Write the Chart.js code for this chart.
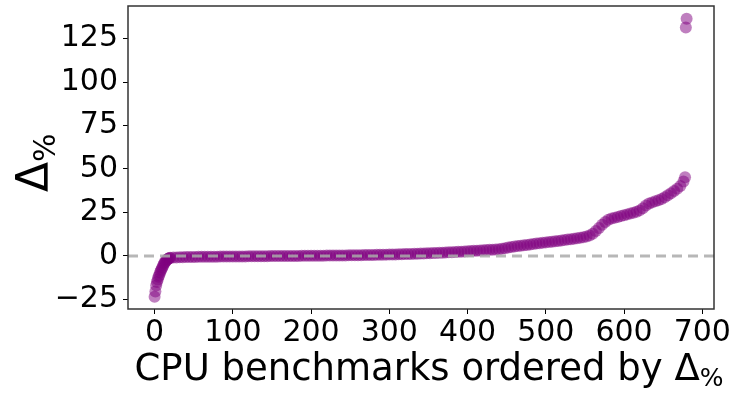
<!DOCTYPE html>
<html>
<head>
<meta charset="utf-8">
<script src="https://cdn.jsdelivr.net/npm/chart.js@4.4.0/dist/chart.umd.min.js"></script>
<style>
  body { margin: 0; background: #fff; }
  #wrap { width: 738px; height: 399px; position: relative; }
</style>
</head>
<body>
<div id="wrap"><canvas id="deltaChart"></canvas></div>
<script>
// benchmark index (sorted by delta) and delta in %
var benchIdx = [0, 1, 2, 3, 4, 5, 6, 7, 8, 9, 10, 11, 12, 13, 14, 15, 16, 17, 18, 19, 20,
	24, 28, 32, 36, 40, 44, 48, 52, 56, 60,
	64, 68, 72, 76, 80, 84, 88, 92, 96, 100,
	104, 108, 112, 116, 120, 124, 128, 132, 136, 140,
	144, 148, 152, 156, 160, 164, 168, 172, 176, 180,
	184, 188, 192, 196, 200, 204, 208, 212, 216, 220,
	224, 228, 232, 236, 240, 244, 248, 252, 256, 260,
	264, 268, 272, 276, 280, 284, 288, 292, 296, 300,
	304, 308, 312, 316, 320, 324, 328, 332, 336, 340,
	344, 348, 352, 356, 360, 364, 368, 372, 376, 380,
	384, 388, 392, 396, 400, 404, 408, 412, 416, 420,
	424, 428, 432, 436, 440, 444, 448, 452, 456, 460,
	464, 468, 472, 476, 480, 484, 488, 492, 496, 500,
	504, 508, 512, 516, 520, 524, 528, 532, 536, 540,
	544, 548, 552, 556, 560, 564, 568, 572, 576, 580,
	584, 588, 592, 596, 600, 604, 608, 612, 616, 620,
	624, 628, 632, 636, 640, 644, 648, 652, 656, 660,
	664, 668, 672, 676, 678, 679, 680];

var deltaPct = [-23.5, -20.5, -17, -15, -13.5, -12, -11, -9.5, -8.5, -7.5, -6.5, -5.5, -4.5, -3.8, -3.2, -2.6, -2.1, -1.7, -1.4, -1.2, -1.0,
	-0.9, -0.85, -0.75, -0.7, -0.65, -0.6, -0.58, -0.55, -0.5, -0.5,
	-0.47, -0.45, -0.43, -0.4, -0.4, -0.37, -0.35, -0.33, -0.3, -0.3,
	-0.3, -0.27, -0.25, -0.25, -0.2, -0.2, -0.2, -0.17, -0.15, -0.15,
	-0.12, -0.1, -0.1, -0.08, -0.05, -0.05, -0.02, 0, 0, 0,
	0.03, 0.05, 0.07, 0.1, 0.1, 0.1, 0.13, 0.15, 0.17, 0.2,
	0.2, 0.22, 0.25, 0.27, 0.3, 0.3, 0.33, 0.37, 0.4, 0.4,
	0.44, 0.48, 0.52, 0.56, 0.6, 0.64, 0.68, 0.72, 0.76, 0.8,
	0.84, 0.88, 0.95, 1.0, 1.05, 1.1, 1.18, 1.25, 1.32, 1.36,
	1.43, 1.5, 1.6, 1.67, 1.75, 1.83, 1.9, 2.0, 2.07, 2.15,
	2.27, 2.35, 2.45, 2.58, 2.7, 2.82, 2.94, 3.05, 3.13, 3.25,
	3.37, 3.5, 3.6, 3.72, 3.9, 4.15, 4.45, 4.8, 5.1, 5.4,
	5.65, 5.9, 6.1, 6.35, 6.6, 6.85, 7.1, 7.3, 7.55, 7.8,
	7.95, 8.2, 8.4, 8.65, 8.9, 9.15, 9.4, 9.6, 9.85, 10.2,
	10.5, 10.8, 11.2, 11.8, 12.8, 14.4, 16.1, 17.9, 19.5, 20.8,
	21.5, 22.0, 22.4, 22.9, 23.4, 23.9, 24.4, 24.9, 25.4, 26.2,
	27.4, 29.0, 30.2, 30.8, 31.4, 32.0, 32.8, 33.8, 34.9, 36.0,
	37.3, 38.7, 40.2, 42.8, 45.2, 131.4, 136.4];

var xTicks = [0, 100, 200, 300, 400, 500, 600, 700];
var yTicks = [-25, 0, 25, 50, 75, 100, 125];

var points = benchIdx.map(function(x, i) { return { x: x, y: deltaPct[i] }; });

var FONT = "'DejaVu Sans', sans-serif";

// frame, zero line and the two axis titles (with subscript %)
var extras = {
	id: 'extras',
	afterDatasetsDraw: function(chart) {
		var c = chart.ctx, a = chart.chartArea;
		var y0 = chart.scales.y.getPixelForValue(0);
		c.save();
		c.strokeStyle = 'rgba(170,170,170,0.85)';
		c.lineWidth = 3;
		c.setLineDash([10, 6]);
		c.beginPath();
		c.moveTo(a.left, y0);
		c.lineTo(a.right, y0);
		c.stroke();
		c.restore();
	},
	afterDraw: function(chart) {
		var c = chart.ctx, a = chart.chartArea;
		c.save();
		c.strokeStyle = '#333';
		c.lineWidth = 1.5;
		c.strokeRect(a.left, a.top, a.right - a.left, a.bottom - a.top);

		c.fillStyle = '#000';
		c.textBaseline = 'alphabetic';
		c.textAlign = 'left';
		// x title
		var main = 'CPU benchmarks ordered by \u0394';
		c.font = '37px ' + FONT;
		var w1 = c.measureText(main).width;
		c.font = '25px ' + FONT;
		var w2 = c.measureText('%').width;
		var x0 = 429 - (w1 + w2) / 2;
		c.font = '37px ' + FONT;
		c.fillText(main, x0, 380);
		c.font = '25px ' + FONT;
		c.fillText('%', x0 + w1, 386);

		// y title, rotated
		c.translate(48, 192);
		c.rotate(-Math.PI / 2);
		c.font = '44px ' + FONT;
		var wd = c.measureText('\u0394').width;
		c.fillText('\u0394', 0, 0);
		c.font = '30px ' + FONT;
		c.fillText('%', wd, 7);
		c.restore();
	}
};

var ctx = document.getElementById('deltaChart');

var chart = new Chart(ctx, {
	type: 'scatter',
	data: {
		datasets: [{
			data: points,
			backgroundColor: 'rgba(128,0,128,0.5)',
			borderWidth: 0,
			pointRadius: 6,
			pointHoverRadius: 6
		}]
	},
	options: {
		responsive: true,
		maintainAspectRatio: false,
		animation: false,
		layout: { padding: { top: 6, right: 24, left: 0, bottom: 0 } },
		plugins: {
			legend: { display: false },
			tooltip: { enabled: false }
		},
		scales: {
			x: {
				type: 'linear',
				min: -34,
				max: 715,
				afterFit: function(s) { s.height = 90; s.paddingLeft = 0; s.paddingRight = 0; },
				afterBuildTicks: function(s) { s.ticks = xTicks.map(function(v) { return { value: v }; }); },
				border: { display: false },
				grid: { drawOnChartArea: false, drawTicks: true, tickLength: 5, color: '#000' },
				ticks: { color: '#000', font: { family: FONT, size: 30 }, padding: 1, maxRotation: 0 }
			},
			y: {
				type: 'linear',
				min: -30.5,
				max: 143.7,
				afterFit: function(s) { s.width = 128; s.paddingTop = 0; s.paddingBottom = 0; },
				afterBuildTicks: function(s) { s.ticks = yTicks.map(function(v) { return { value: v }; }); },
				border: { display: false },
				grid: { drawOnChartArea: false, drawTicks: true, tickLength: 5, color: '#000' },
				ticks: {
					color: '#000',
					font: { family: FONT, size: 30 },
					padding: 5,
					callback: function(v) { return String(v).replace('-', '\u2212'); }
				}
			}
		}
	},
	plugins: [extras]
});
</script>
</body>
</html>
